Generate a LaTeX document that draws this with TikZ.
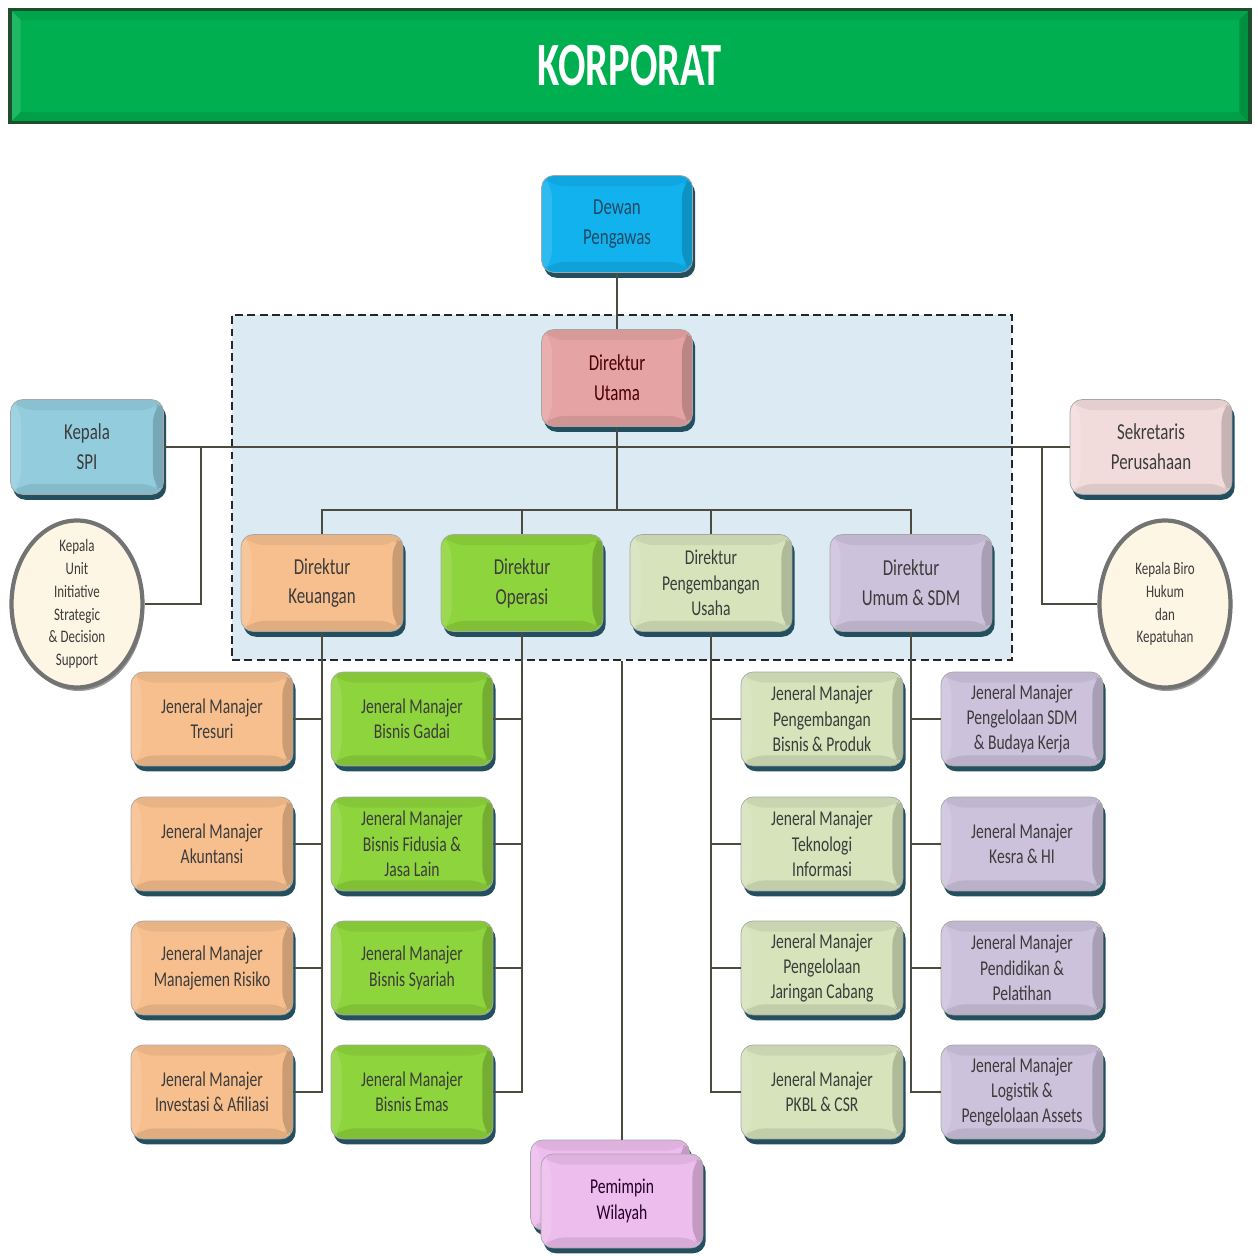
\documentclass[tikz,border=0pt]{standalone}
\usepackage{fontspec}
\setmainfont{Carlito}[FakeStretch=0.74]
\newfontfamily\titlefont{Carlito}[FakeStretch=0.66]
\usepackage{tikz}
\usetikzlibrary{shadows}
\usetikzlibrary{shapes}
\usetikzlibrary{fit}
\usetikzlibrary{positioning}

\definecolor{korpgreen}{HTML}{00B050}
\definecolor{korpedge}{HTML}{1D4F2B}
\definecolor{dewanblue}{HTML}{12B2EE}
\definecolor{dewantext}{HTML}{1F4A66}
\definecolor{utamapink}{HTML}{E6A3A3}
\definecolor{spiblue}{HTML}{93CDDD}
\definecolor{sekrpink}{HTML}{F2DCDB}
\definecolor{ellcream}{HTML}{FDF6E4}
\definecolor{keutan}{HTML}{F7BF8E}
\definecolor{opsgreen}{HTML}{8ED43C}
\definecolor{pgmgreen}{HTML}{D6E3BB}
\definecolor{sdmlilac}{HTML}{CDC2DC}
\definecolor{pwviolet}{HTML}{EDBDED}
\definecolor{direksibg}{HTML}{DCEAF3}
\definecolor{shadowteal}{HTML}{234F5E}
\definecolor{linegrey}{HTML}{4B4B3F}
\definecolor{txtgrey}{HTML}{3C3C3C}

\tikzset{
  bevel/.style={path picture={
      \coordinate (bsw) at (path picture bounding box.south west);
      \coordinate (bse) at (path picture bounding box.south east);
      \coordinate (bnw) at (path picture bounding box.north west);
      \coordinate (bne) at (path picture bounding box.north east);
      \fill[black,opacity=.18] (bne) -- (bse) -- ([xshift=-6pt,yshift=6pt]bse) -- ([xshift=-6pt,yshift=-6pt]bne) -- cycle;
      \fill[black,opacity=.06] (bnw) -- (bne) -- ([xshift=-6pt,yshift=-6pt]bne) -- ([xshift=6pt,yshift=-6pt]bnw) -- cycle;
      \fill[black,opacity=.09] (bsw) -- (bse) -- ([xshift=-6pt,yshift=6pt]bse) -- ([xshift=6pt,yshift=6pt]bsw) -- cycle;
      \fill[white,opacity=.12] (bsw) -- (bnw) -- ([xshift=6pt,yshift=-6pt]bnw) -- ([xshift=6pt,yshift=6pt]bsw) -- cycle;
    }},
  box/.style={rectangle, rounded corners=7pt, draw=black!35, line width=.4pt,
    fill=#1, align=center, text=txtgrey,
    drop shadow={shadow xshift=1.5pt, shadow yshift=-3pt, fill=shadowteal, opacity=1},
    bevel},
  dirbox/.style={box=#1, minimum width=3.24cm, minimum height=1.94cm,
    font=\fontsize{13}{17}\selectfont},
  jmbox/.style={box=#1, minimum width=3.24cm, minimum height=1.88cm,
    font=\fontsize{12}{14.5}\selectfont},
  ellbox/.style={ellipse, minimum width=2.62cm, minimum height=3.34cm, inner sep=0pt,
    fill=ellcream, draw=black!55, line width=2.4pt,
    drop shadow={shadow xshift=1pt, shadow yshift=-2pt, fill=black!40, opacity=1}},
  orgline/.style={draw=linegrey, line width=1.6pt},
  hvline/.style={to path={-| (\tikztotarget)}},
  vhline/.style={to path={|- (\tikztotarget)}}
}

\begin{document}
\begin{tikzpicture}[x=0.02cm, y=-0.02cm]
  \useasboundingbox (0,0) rectangle (1258,1256);

  % judul
  \node[rectangle, fill=korpgreen, draw=korpedge, line width=2pt, bevel,
        minimum width=24.8cm, minimum height=2.26cm, text=white,
        font={\titlefont\fontsize{35}{40}\selectfont\bfseries}] (korporat) at (630,66) {KORPORAT};

  % area direksi
  \node[fit={(232,315) (1012,660)}, inner sep=0pt, fill=direksibg, draw=black!85,
        line width=1.3pt, dash pattern=on 4.5pt off 2.5pt] (direksi) {};

  \begin{scope}[every node/.style={}]
    \node[dirbox=dewanblue, minimum width=3.02cm, text=dewantext] (dewan) at (617,224) {Dewan\\Pengawas};
    \node[dirbox=utamapink, minimum width=3.02cm, text={red!30!black}] (utama) at (617,378) {Direktur\\Utama};
    \node[dirbox=spiblue, minimum width=3.06cm, minimum height=1.9cm] (spi) at (87,447) {Kepala\\SPI};
    \node[dirbox=sekrpink, minimum height=1.9cm] (sekr) at (1151,447) {Sekretaris\\Perusahaan};
    \node[ellbox, label={[font=\fontsize{10}{13}\selectfont, align=center, text=txtgrey]center:{Kepala\\Unit\\Initiative\\Strategic\\\& Decision\\Support}}] (ksd) at (77,604) {};
    \node[ellbox, label={[font=\fontsize{10}{13}\selectfont, align=center, text=txtgrey]center:{Kepala Biro\\Hukum\\dan\\Kepatuhan}}] (khk) at (1165,604) {};
  \end{scope}

  % direktur
  \node[dirbox=keutan] (dkeu) at (322,583) {Direktur\\Keuangan};
  \node[dirbox=opsgreen] (dops) at (522,583) {Direktur\\Operasi};
  \node[dirbox=pgmgreen, font=\fontsize{12}{14.5}\selectfont] (dpgm) at (711,583) {Direktur\\Pengembangan\\Usaha};
  \node[dirbox=sdmlilac] (dsdm) at (911,583) {Direktur\\Umum \& SDM};

  % jeneral manajer
  \node[jmbox=keutan] (jtre) at (212,719) {Jeneral Manajer\\Tresuri};
  \node[jmbox=keutan] (jaku) at (212,844) {Jeneral Manajer\\Akuntansi};
  \node[jmbox=keutan] (jrsk) at (212,968) {Jeneral Manajer\\Manajemen Risiko};
  \node[jmbox=keutan] (jinv) at (212,1092) {Jeneral Manajer\\Investasi \& Afiliasi};

  \node[jmbox=opsgreen] (jgad) at (412,719) {Jeneral Manajer\\Bisnis Gadai};
  \node[jmbox=opsgreen] (jfid) at (412,844) {Jeneral Manajer\\Bisnis Fidusia \&\\Jasa Lain};
  \node[jmbox=opsgreen] (jsya) at (412,968) {Jeneral Manajer\\Bisnis Syariah};
  \node[jmbox=opsgreen] (jema) at (412,1092) {Jeneral Manajer\\Bisnis Emas};

  \node[jmbox=pgmgreen] (jbpr) at (822,719) {Jeneral Manajer\\Pengembangan\\Bisnis \& Produk};
  \node[jmbox=pgmgreen] (jtek) at (822,844) {Jeneral Manajer\\Teknologi\\Informasi};
  \node[jmbox=pgmgreen] (jjar) at (822,968) {Jeneral Manajer\\Pengelolaan\\Jaringan Cabang};
  \node[jmbox=pgmgreen] (jpkb) at (822,1092) {Jeneral Manajer\\PKBL \& CSR};

  \node[jmbox=sdmlilac] (jsdm) at (1022,719) {Jeneral Manajer\\Pengelolaan SDM\\\& Budaya Kerja};
  \node[jmbox=sdmlilac] (jkes) at (1022,844) {Jeneral Manajer\\Kesra \& HI};
  \node[jmbox=sdmlilac] (jdik) at (1022,968) {Jeneral Manajer\\Pendidikan \&\\Pelatihan};
  \node[jmbox=sdmlilac] (jlog) at (1022,1092) {Jeneral Manajer\\Logistik \&\\Pengelolaan Assets};

  % pemimpin wilayah
  \node[jmbox=pwviolet, minimum width=3.18cm, minimum height=1.8cm] (pwb) at (610,1185) {};
  \node[jmbox=pwviolet, text={violet!30!black}] (pw) at (622,1201) {Pemimpin\\Wilayah};

  \coordinate (bus) at (617,510);
  \coordinate (spiL) at (201,447);
  \coordinate (sekrR) at (1042,447);

  \begin{scope}[every edge/.style={orgline}]
    \path (dewan) edge (utama);
    \path (spi) edge (sekr);
    \path (utama) edge (bus);
    \path (spiL) edge[vhline] (ksd);
    \path (sekrR) edge[vhline] (khk);
    \path (bus) edge[hvline] (dkeu);
    \path (bus) edge[hvline] (dops);
    \path (bus) edge[hvline] (dpgm);
    \path (bus) edge[hvline] (dsdm);
    \path (jtre) edge[hvline] (dkeu);
    \path (jaku) edge[hvline] (dkeu);
    \path (jrsk) edge[hvline] (dkeu);
    \path (jinv) edge[hvline] (dkeu);
    \path (jgad) edge[hvline] (dops);
    \path (jfid) edge[hvline] (dops);
    \path (jsya) edge[hvline] (dops);
    \path (jema) edge[hvline] (dops);
    \path (jbpr) edge[hvline] (dpgm);
    \path (jtek) edge[hvline] (dpgm);
    \path (jjar) edge[hvline] (dpgm);
    \path (jpkb) edge[hvline] (dpgm);
    \path (jsdm) edge[hvline] (dsdm);
    \path (jkes) edge[hvline] (dsdm);
    \path (jdik) edge[hvline] (dsdm);
    \path (jlog) edge[hvline] (dsdm);
    \path (pw.north |- direksi.south) edge (pw.north |- pwb.north);
  \end{scope}
\end{tikzpicture}
\end{document}
